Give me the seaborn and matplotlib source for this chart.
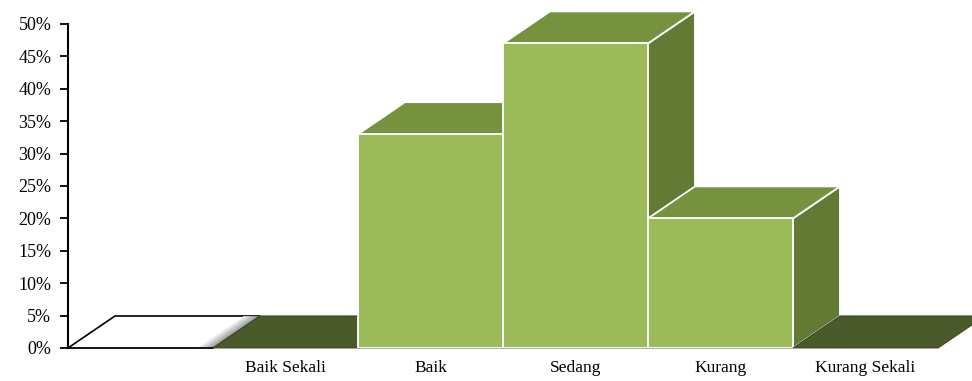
import matplotlib
matplotlib.use("Agg")
import matplotlib.pyplot as plt
import seaborn as sns
import numpy as np

categories = ["", "Baik Sekali", "Baik", "Sedang", "Kurang", "Kurang Sekali"]
values = [0, 0, 33, 47, 20, 0]
yticks = [0, 5, 10, 15, 20, 25, 30, 35, 40, 45, 50]
ytick_labels = [f"{v}%" for v in yticks]

FRONT = "#9BBB59"
TOP = "#77923F"
SIDE = "#637A35"
FLOOR = "#4A5A2B"

sns.set_theme(style="white")
plt.rcParams["font.family"] = ["Liberation Serif", "DejaVu Serif"]

fig = plt.figure(figsize=(9.72, 3.81), dpi=100)
ax = fig.add_axes([68 / 972, 33 / 381, 1 - 68 / 972, 348 / 381])

front_colors = ["white"] + [FRONT] * (len(values) - 1)
sns.barplot(x=list(range(len(categories))), y=values, width=1.0,
            palette=front_colors, hue=list(range(len(categories))),
            legend=False, ax=ax, saturation=1)

dx, dy = 0.324, 4.94
for i, (bar, v) in enumerate(zip(ax.patches, values)):
    x0 = bar.get_x()
    x1 = x0 + bar.get_width()
    h = bar.get_height()
    base = 3 * i
    if i == 0:
        edge, face_top, face_side = "black", "white", "white"
        lw = 1.2
    else:
        edge = "white"
        face_top = FLOOR if h == 0 else TOP
        face_side = SIDE
        lw = 1.3
    if h > 0:
        ax.fill([x1, x1 + dx, x1 + dx, x1], [0, dy, h + dy, h],
                facecolor=face_side, edgecolor=edge, linewidth=lw, zorder=base + 1)
    ax.fill([x0, x1, x1 + dx, x0 + dx], [h, h, h + dy, h + dy],
            facecolor=face_top, edgecolor=edge if h > 0 or i == 0 else "#3a4720",
            linewidth=lw if h > 0 or i == 0 else 0.8, zorder=base + 2)
    if i == 0:
        n = 8
        for k in range(n):
            w0 = 0.11 * k / n
            w1 = 0.11 * (k + 1) / n
            g = 1.0 - 0.45 * (k + 1) / n
            ax.fill([x1 - 0.11 + w0, x1 - 0.11 + w1, x1 - 0.11 + w1 + dx, x1 - 0.11 + w0 + dx],
                    [0, 0, dy, dy], facecolor=(g, g, g), edgecolor="none",
                    zorder=base + 2.5)
    bar.set_zorder(base + 3)
    bar.set_edgecolor(edge if h > 0 else "none")
    bar.set_linewidth(lw)

ax.set_xlim(-0.5, 5.5 + 34 / 145)
ax.set_ylim(0, 348 / 6.48)
ax.set_yticks(yticks)
ax.set_yticklabels(ytick_labels, fontsize=13, color="black")
ax.set_xticks(range(len(categories)))
ax.set_xticklabels(categories, fontsize=12.5, color="black")
ax.tick_params(axis="y", which="both", left=True, length=6, width=1.3,
               direction="out", pad=6, colors="black")
ax.tick_params(axis="x", bottom=False, pad=3)
ax.set_xlabel("")
ax.set_ylabel("")
for s in ["top", "right"]:
    ax.spines[s].set_visible(False)
ax.spines["left"].set_bounds(0, 50)
ax.spines["left"].set_color("black")
ax.spines["left"].set_linewidth(1.5)
ax.spines["left"].set_zorder(50)
ax.spines["bottom"].set_bounds(-0.5, 5.5)
ax.spines["bottom"].set_color("#9a9a9a")
ax.spines["bottom"].set_linewidth(1.2)
ax.patch.set_alpha(0)
ax.plot([-0.5, 0.5], [0, 0], color="black", lw=1.2, zorder=20, clip_on=False)

fig.savefig("out.png", dpi=100)
